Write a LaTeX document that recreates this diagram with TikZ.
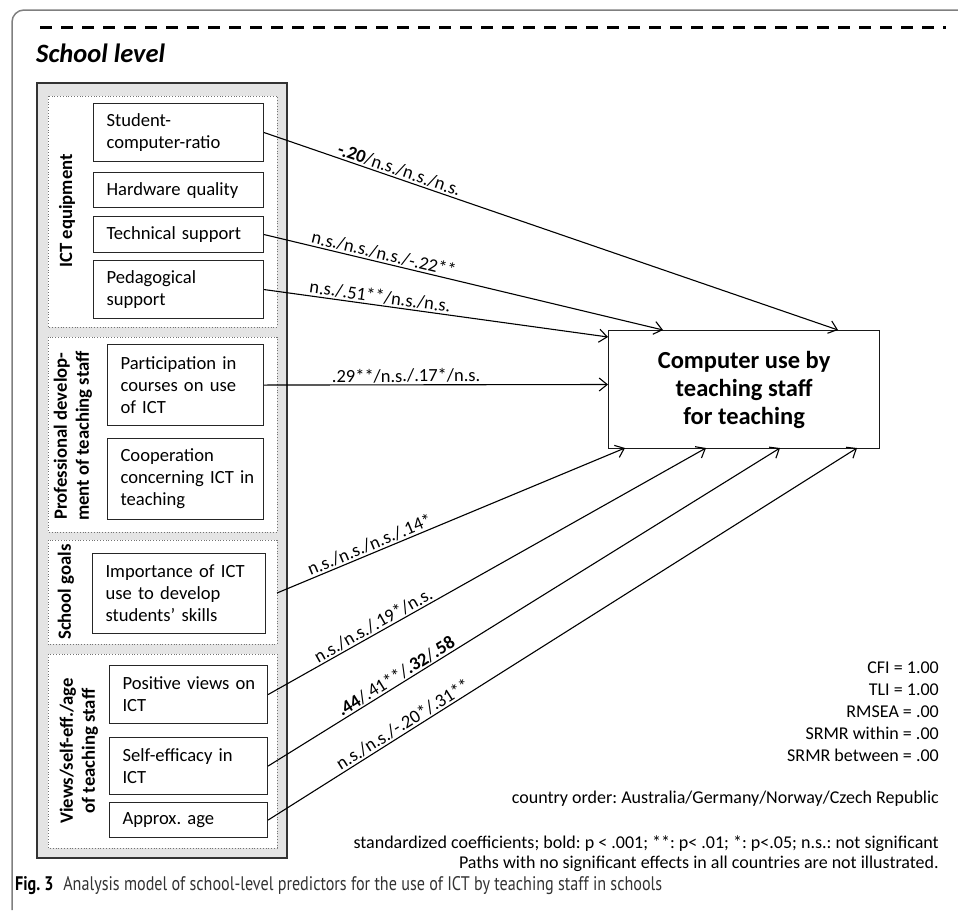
\documentclass[tikz,border=0pt]{standalone}
\usepackage{fontspec}
\usepackage{graphicx}
\setmainfont{Carlito}
\newfontfamily\capfont{PT Sans}
\usetikzlibrary{arrows.meta}
\definecolor{panelgray}{HTML}{E4E4E4}
\definecolor{framegray}{HTML}{7F7F7F}
\frenchspacing
\tikzset{
  box/.style={draw=black!85, line width=1.1pt, fill=white, align=left,
    font=\fontsize{18.6}{22}\selectfont, text=black, inner xsep=13pt, inner ysep=0pt,
    anchor=north west},
  grp/.style={draw=black!55, line width=0.8pt, dotted},
  vlab/.style={rotate=90, align=center, font=\bfseries\fontsize{18.7}{22}\selectfont, text=black},
  arr/.style={line width=1.1pt, -{Straight Barb[length=8pt,width=13pt,line width=1.1pt]}},
  lab/.style={sloped, above, inner sep=1.5pt, font=\fontsize{18.5}{22}\selectfont, text=black},
  note/.style={anchor=base east, inner sep=0pt, font=\fontsize{18}{22}\selectfont, text=black},
}
\begin{document}
\begin{tikzpicture}[x=1pt,y=-1pt]
\useasboundingbox (0,0) rectangle (958,910);
% outer frame
\draw[framegray, line width=1.5pt, rounded corners=12pt] (12,910) -- (12,10) -- (960,10);
\draw[black, line width=3pt, dash pattern=on 12pt off 9pt] (40,27) -- (946,27);
\node[anchor=base west, inner sep=0pt, font=\bfseries\itshape\fontsize{26.5}{30}\selectfont] (title) at (36,62) {School level};
% panel
\draw[fill=panelgray, draw=black!80, line width=1.5pt] (37,83) rectangle (287,858);
\draw[grp, fill=white] (48,96) rectangle (277,327);
\draw[grp, fill=white] (48,337) rectangle (277,532);
\draw[grp, fill=white] (48,540) rectangle (277,644);
\draw[grp, fill=white] (48,654) rectangle (277,848);
% group labels
\node[vlab] (lict) at (67,211) {ICT equipment};
\node[vlab] (lprof) at (73,436) {Professional develop-\\ment of teaching staff};
\node[vlab] (lgoal) at (66,592) {School goals};
\node[vlab] (lview) at (79,751) {Views/self-eff./age\\of teaching staff};
% predictor boxes
\node[box, text width=144pt, minimum height=58pt] (scr) at (93,103) {Student-\\\mbox{computer-ratio}};
\node[box, text width=144pt, minimum height=35pt] (hw) at (93,172) {\mbox{Hardware quality}};
\node[box, text width=144pt, minimum height=36pt] (ts) at (93,216) {\mbox{Technical support}};
\node[box, text width=144pt, minimum height=58pt] (ps) at (93,260) {Pedagogical\\support};
\node[box, text width=130pt, minimum height=81pt] (part) at (107,344) {\mbox{Participation in}\\\mbox{courses on use}\\of ICT};
\node[box, text width=130pt, minimum height=81pt] (coop) at (107,438) {Cooperation\\\mbox{concerning ICT in}\\teaching};
\node[box, text width=147pt, minimum height=80pt] (imp) at (92,553) {\mbox{Importance of ICT}\\\mbox{use to develop}\\\mbox{students' skills}};
\node[box, text width=132pt, minimum height=58pt] (pos) at (109,665) {\mbox{Positive views on}\\ICT};
\node[box, text width=132pt, minimum height=57pt] (se) at (109,737) {\mbox{Self-efficacy in}\\ICT};
\node[box, text width=132pt, minimum height=35pt] (age) at (109,802) {\mbox{Approx. age}};
% outcome
\node[draw=black!90, line width=1.2pt, fill=white, minimum width=271pt, minimum height=118pt,
  anchor=north west, align=center, inner sep=0pt,
  font=\bfseries\fontsize{24.5}{28}\selectfont, text=black] (tgt) at (608,330)
  {Computer use by\\teaching staff\\for teaching};
% end points
\coordinate (e1) at (838,330);
\coordinate (e2) at (663,330);
\coordinate (e3) at (608,337);
\coordinate (e4) at (608,384.5);
\coordinate (e5) at (625,448);
\coordinate (e6) at (706,448);
\coordinate (e7) at (780,448);
\coordinate (e8) at (857,448);
\coordinate (simp) at (277,593);
% paths
\draw[arr] (scr.east) -- (e1) node[lab, pos=0.231] {\textbf{-.20}/n.s./n.s./n.s.};
\draw[arr] (ts.east) -- (e2) node[lab, pos=0.295] {n.s./n.s./n.s./-.22**};
\draw[arr] (ps.east) -- (e3) node[lab, pos=0.334] {n.s./.51**/n.s./n.s.};
\draw[arr] (part.east) -- (e4) node[lab, pos=0.413] {.29**/n.s./.17*/n.s.};
\draw[arr] (simp) -- (e5) node[lab, pos=0.276] {n.s./n.s./n.s./.14*};
\draw[arr] (pos.east) -- (e6) node[lab, pos=0.25] {n.s./n.s./.19*/n.s.};
\draw[arr] (se.east) -- (e7) node[lab, pos=0.259] {\textbf{.44}/.41**/\textbf{.32}/\textbf{.58}};
\draw[arr] (age.east) -- (e8) node[lab, pos=0.237] {n.s./n.s./-.20*/.31**};
% fit indices and notes
\node[note] (n1) at (939,673) {CFI = 1.00};
\node[note] (n2) at (939,695) {TLI = 1.00};
\node[note] (n3) at (939,717) {RMSEA = .00};
\node[note] (n4) at (939,739) {SRMR within = .00};
\node[note] (n5) at (939,761) {SRMR between = .00};
\node[note] (n6) at (939,803) {country order: Australia/Germany/Norway/Czech Republic};
\node[note] (n7) at (939,848) {standardized coefficients; bold: p < .001; **: p< .01; *: p<.05; n.s.: not significant};
\node[note] (n8) at (939,868) {Paths with no significant effects in all countries are not illustrated.};
% caption
\node[anchor=base west, inner sep=0pt] (cap) at (15,890)
  {\resizebox{647pt}{14pt}{\capfont\fontsize{17}{20}\selectfont\textbf{Fig. 3}\hspace{0.6em}{\color{black!80}Analysis model of school-level predictors for the use of ICT by teaching staff in schools}}};
\end{tikzpicture}
\end{document}
